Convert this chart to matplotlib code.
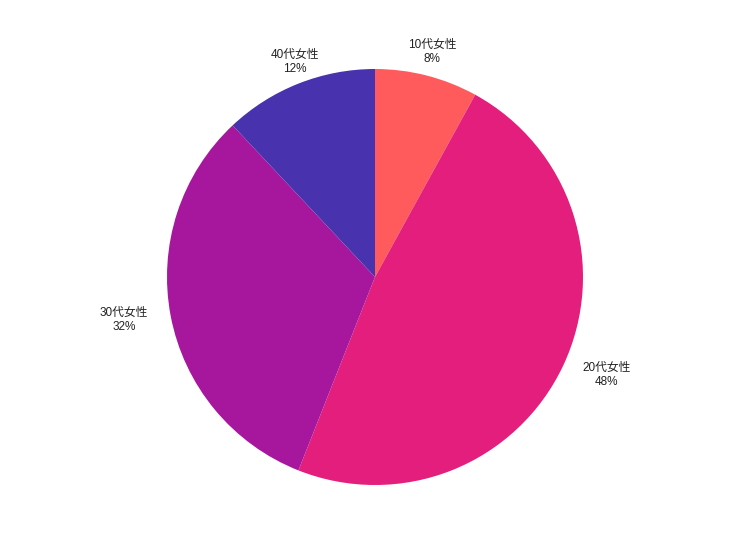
import matplotlib
matplotlib.use("Agg")
import matplotlib.pyplot as plt

plt.rcParams['font.family'] = ['Liberation Sans', 'Noto Sans CJK JP', 'DejaVu Sans']

labels = ['10代女性', '20代女性', '30代女性', '40代女性']
values = [8, 48, 32, 12]
colors = ['#FF5A5C', '#E31E7D', '#A6179E', '#4832AD']
# where each label sits, in pie-radius units (the source chart places them itself)
label_pos = [(0.274, 1.082), (1.115, -0.471), (-1.207, -0.207), (-0.385, 1.034)]

fig = plt.figure(figsize=(7.5, 5.55), dpi=100)
ax = fig.add_axes([(375 - 208) / 750, (278 - 208) / 555, 416 / 750, 416 / 555])

ax.pie(values, colors=colors, startangle=90, counterclock=False,
       wedgeprops=dict(linewidth=0))
ax.set_xlim(-1, 1)
ax.set_ylim(-1, 1)

for lab, v, (x, y) in zip(labels, values, label_pos):
    ax.text(x, y, '%s\n%d%%' % (lab, v), ha='center', va='center',
            fontsize=8.5, color='#222222', linespacing=1.2, clip_on=False)

fig.savefig('out.png', dpi=100)
